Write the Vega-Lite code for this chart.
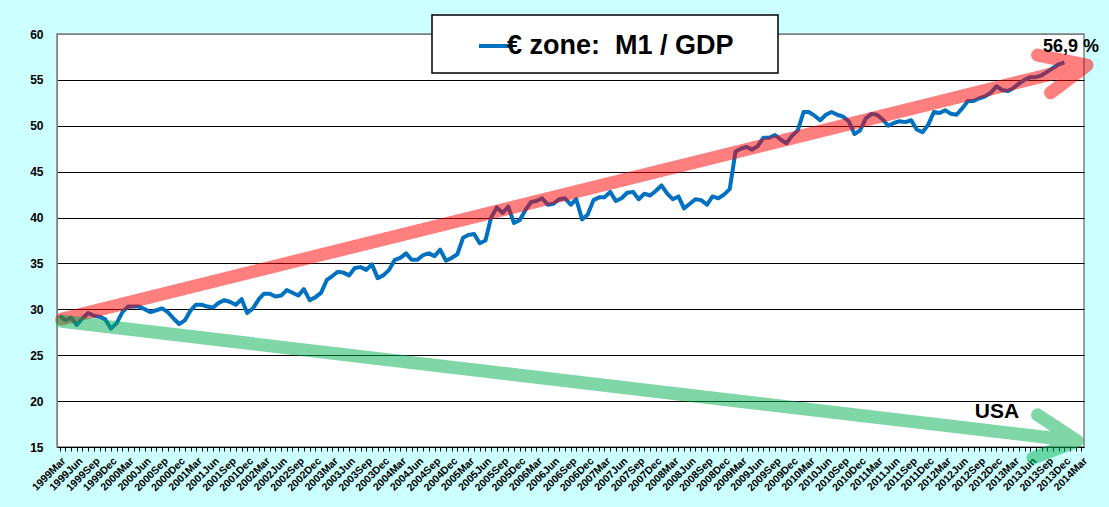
{
  "$schema": "https://vega.github.io/schema/vega-lite/v6.json",
  "autosize": {"type": "none"},
  "padding": {"left": 57, "top": 34, "right": 25, "bottom": 60},
  "width": 1027,
  "height": 413,
  "background": "#ccffff",
  "config": {
    "font": "Liberation Sans",
    "view": {"fill": "white", "stroke": "#808080", "strokeWidth": 1.5}
  },
  "datasets": {
    "m1": [
      {"month": "1999-03-01", "value": 29.3}, {"month": "1999-04-01", "value": 28.8}, {"month": "1999-05-01", "value": 29.1},
      {"month": "1999-06-01", "value": 28.3}, {"month": "1999-07-01", "value": 29.0}, {"month": "1999-08-01", "value": 29.6},
      {"month": "1999-09-01", "value": 29.3}, {"month": "1999-10-01", "value": 29.2}, {"month": "1999-11-01", "value": 28.9},
      {"month": "1999-12-01", "value": 27.9}, {"month": "2000-01-01", "value": 28.5}, {"month": "2000-02-01", "value": 29.7},
      {"month": "2000-03-01", "value": 30.3}, {"month": "2000-04-01", "value": 30.3}, {"month": "2000-05-01", "value": 30.3},
      {"month": "2000-06-01", "value": 30.0}, {"month": "2000-07-01", "value": 29.7}, {"month": "2000-08-01", "value": 29.9},
      {"month": "2000-09-01", "value": 30.1}, {"month": "2000-10-01", "value": 29.7}, {"month": "2000-11-01", "value": 29.0},
      {"month": "2000-12-01", "value": 28.4}, {"month": "2001-01-01", "value": 28.8}, {"month": "2001-02-01", "value": 29.9},
      {"month": "2001-03-01", "value": 30.5}, {"month": "2001-04-01", "value": 30.5}, {"month": "2001-05-01", "value": 30.3},
      {"month": "2001-06-01", "value": 30.2}, {"month": "2001-07-01", "value": 30.7}, {"month": "2001-08-01", "value": 31.0},
      {"month": "2001-09-01", "value": 30.8}, {"month": "2001-10-01", "value": 30.5}, {"month": "2001-11-01", "value": 31.1},
      {"month": "2001-12-01", "value": 29.6}, {"month": "2002-01-01", "value": 30.1}, {"month": "2002-02-01", "value": 31.1},
      {"month": "2002-03-01", "value": 31.7}, {"month": "2002-04-01", "value": 31.7}, {"month": "2002-05-01", "value": 31.4},
      {"month": "2002-06-01", "value": 31.5}, {"month": "2002-07-01", "value": 32.1}, {"month": "2002-08-01", "value": 31.8},
      {"month": "2002-09-01", "value": 31.5}, {"month": "2002-10-01", "value": 32.2}, {"month": "2002-11-01", "value": 31.0},
      {"month": "2002-12-01", "value": 31.3}, {"month": "2003-01-01", "value": 31.8}, {"month": "2003-02-01", "value": 33.2},
      {"month": "2003-03-01", "value": 33.6}, {"month": "2003-04-01", "value": 34.1}, {"month": "2003-05-01", "value": 34.0},
      {"month": "2003-06-01", "value": 33.7}, {"month": "2003-07-01", "value": 34.5}, {"month": "2003-08-01", "value": 34.6},
      {"month": "2003-09-01", "value": 34.3}, {"month": "2003-10-01", "value": 34.9}, {"month": "2003-11-01", "value": 33.4},
      {"month": "2003-12-01", "value": 33.7}, {"month": "2004-01-01", "value": 34.3}, {"month": "2004-02-01", "value": 35.4},
      {"month": "2004-03-01", "value": 35.6}, {"month": "2004-04-01", "value": 36.1}, {"month": "2004-05-01", "value": 35.4},
      {"month": "2004-06-01", "value": 35.4}, {"month": "2004-07-01", "value": 35.9}, {"month": "2004-08-01", "value": 36.1},
      {"month": "2004-09-01", "value": 35.8}, {"month": "2004-10-01", "value": 36.5}, {"month": "2004-11-01", "value": 35.3},
      {"month": "2004-12-01", "value": 35.6}, {"month": "2005-01-01", "value": 36.0}, {"month": "2005-02-01", "value": 37.8},
      {"month": "2005-03-01", "value": 38.1}, {"month": "2005-04-01", "value": 38.2}, {"month": "2005-05-01", "value": 37.2},
      {"month": "2005-06-01", "value": 37.5}, {"month": "2005-07-01", "value": 40.0}, {"month": "2005-08-01", "value": 41.1},
      {"month": "2005-09-01", "value": 40.5}, {"month": "2005-10-01", "value": 41.2}, {"month": "2005-11-01", "value": 39.4},
      {"month": "2005-12-01", "value": 39.7}, {"month": "2006-01-01", "value": 40.8}, {"month": "2006-02-01", "value": 41.7},
      {"month": "2006-03-01", "value": 41.8}, {"month": "2006-04-01", "value": 42.1}, {"month": "2006-05-01", "value": 41.4},
      {"month": "2006-06-01", "value": 41.5}, {"month": "2006-07-01", "value": 42.0}, {"month": "2006-08-01", "value": 42.1},
      {"month": "2006-09-01", "value": 41.4}, {"month": "2006-10-01", "value": 42.0}, {"month": "2006-11-01", "value": 39.8},
      {"month": "2006-12-01", "value": 40.3}, {"month": "2007-01-01", "value": 41.9}, {"month": "2007-02-01", "value": 42.2},
      {"month": "2007-03-01", "value": 42.2}, {"month": "2007-04-01", "value": 42.8}, {"month": "2007-05-01", "value": 41.8},
      {"month": "2007-06-01", "value": 42.1}, {"month": "2007-07-01", "value": 42.7}, {"month": "2007-08-01", "value": 42.8},
      {"month": "2007-09-01", "value": 42.0}, {"month": "2007-10-01", "value": 42.6}, {"month": "2007-11-01", "value": 42.4},
      {"month": "2007-12-01", "value": 42.9}, {"month": "2008-01-01", "value": 43.5}, {"month": "2008-02-01", "value": 42.6},
      {"month": "2008-03-01", "value": 42.0}, {"month": "2008-04-01", "value": 42.3}, {"month": "2008-05-01", "value": 41.0},
      {"month": "2008-06-01", "value": 41.5}, {"month": "2008-07-01", "value": 42.0}, {"month": "2008-08-01", "value": 41.9},
      {"month": "2008-09-01", "value": 41.4}, {"month": "2008-10-01", "value": 42.3}, {"month": "2008-11-01", "value": 42.1},
      {"month": "2008-12-01", "value": 42.5}, {"month": "2009-01-01", "value": 43.1}, {"month": "2009-02-01", "value": 47.2},
      {"month": "2009-03-01", "value": 47.5}, {"month": "2009-04-01", "value": 47.7}, {"month": "2009-05-01", "value": 47.4},
      {"month": "2009-06-01", "value": 47.8}, {"month": "2009-07-01", "value": 48.7}, {"month": "2009-08-01", "value": 48.7},
      {"month": "2009-09-01", "value": 49.0}, {"month": "2009-10-01", "value": 48.5}, {"month": "2009-11-01", "value": 48.1},
      {"month": "2009-12-01", "value": 48.9}, {"month": "2010-01-01", "value": 49.5}, {"month": "2010-02-01", "value": 51.5},
      {"month": "2010-03-01", "value": 51.5}, {"month": "2010-04-01", "value": 51.1}, {"month": "2010-05-01", "value": 50.6},
      {"month": "2010-06-01", "value": 51.2}, {"month": "2010-07-01", "value": 51.5}, {"month": "2010-08-01", "value": 51.2},
      {"month": "2010-09-01", "value": 51.0}, {"month": "2010-10-01", "value": 50.5}, {"month": "2010-11-01", "value": 49.1},
      {"month": "2010-12-01", "value": 49.5}, {"month": "2011-01-01", "value": 50.8}, {"month": "2011-02-01", "value": 51.3},
      {"month": "2011-03-01", "value": 51.2}, {"month": "2011-04-01", "value": 50.7}, {"month": "2011-05-01", "value": 50.0},
      {"month": "2011-06-01", "value": 50.3}, {"month": "2011-07-01", "value": 50.5}, {"month": "2011-08-01", "value": 50.4},
      {"month": "2011-09-01", "value": 50.6}, {"month": "2011-10-01", "value": 49.6}, {"month": "2011-11-01", "value": 49.3},
      {"month": "2011-12-01", "value": 50.1}, {"month": "2012-01-01", "value": 51.5}, {"month": "2012-02-01", "value": 51.4},
      {"month": "2012-03-01", "value": 51.7}, {"month": "2012-04-01", "value": 51.3}, {"month": "2012-05-01", "value": 51.2},
      {"month": "2012-06-01", "value": 51.9}, {"month": "2012-07-01", "value": 52.7}, {"month": "2012-08-01", "value": 52.7},
      {"month": "2012-09-01", "value": 53.0}, {"month": "2012-10-01", "value": 53.2}, {"month": "2012-11-01", "value": 53.6},
      {"month": "2012-12-01", "value": 54.3}, {"month": "2013-01-01", "value": 53.9}, {"month": "2013-02-01", "value": 53.8},
      {"month": "2013-03-01", "value": 54.1}, {"month": "2013-04-01", "value": 54.6}, {"month": "2013-05-01", "value": 55.0},
      {"month": "2013-06-01", "value": 55.3}, {"month": "2013-07-01", "value": 55.3}, {"month": "2013-08-01", "value": 55.5},
      {"month": "2013-09-01", "value": 55.9}, {"month": "2013-10-01", "value": 56.3}, {"month": "2013-11-01", "value": 56.7},
      {"month": "2013-12-01", "value": 56.9}
    ],
    "arrows": [
      {"arrow": "up", "k": 0, "month": "1999-03-13", "value": 28.95},
      {"arrow": "up", "k": 1, "month": "2014-04-01", "value": 56.6},
      {"arrow": "up", "k": 2, "month": "2013-07-10", "value": 57.7},
      {"arrow": "up", "k": 3, "month": "2014-04-01", "value": 56.6},
      {"arrow": "up", "k": 4, "month": "2013-09-18", "value": 53.6},
      {"arrow": "usa", "k": 0, "month": "1999-03-13", "value": 28.7},
      {"arrow": "usa", "k": 1, "month": "2014-02-07", "value": 15.65},
      {"arrow": "usa", "k": 2, "month": "2013-07-10", "value": 18.5},
      {"arrow": "usa", "k": 3, "month": "2014-02-07", "value": 15.65},
      {"arrow": "usa", "k": 4, "month": "2013-06-15", "value": 13.8}
    ]
  },
  "encoding": {
    "x": {
      "field": "month",
      "type": "temporal",
      "scale": {
        "type": "utc",
        "domain": [
          {"year": 1999, "month": 2, "date": 15, "utc": true},
          {"year": 2014, "month": 3, "date": 16, "utc": true}
        ]
      },
      "axis": {
        "title": null,
        "grid": false,
        "tickCount": {"interval": "month", "step": 1},
        "labelExpr": "utcmonth(datum.value) % 3 == 2 ? utcFormat(datum.value, '%Y%b') : ''",
        "labelAngle": -45,
        "labelAlign": "right",
        "labelBaseline": "middle",
        "labelFontSize": 10.5,
        "labelFontWeight": "bold",
        "labelColor": "black",
        "labelOverlap": false,
        "labelFlush": false,
        "labelBound": false,
        "labelOffset": 4,
        "labelPadding": 8,
        "tickSize": 4,
        "tickColor": "black",
        "domainColor": "black"
      }
    },
    "y": {
      "field": "value",
      "type": "quantitative",
      "scale": {"domain": [15, 60], "nice": false, "zero": false},
      "axis": {
        "title": null,
        "values": [15, 20, 25, 30, 35, 40, 45, 50, 55, 60],
        "ticks": false,
        "labelPadding": 14,
        "labelFontSize": 12,
        "labelFontWeight": "bold",
        "labelColor": "black",
        "labelFlush": false,
        "domainColor": "#808080",
        "grid": true,
        "gridColor": {"condition": {"test": "datum.value == 60", "value": "#808080"}, "value": "black"},
        "gridOpacity": 1
      }
    }
  },
  "layer": [
    {
      "data": {"name": "m1"},
      "mark": {"type": "line", "strokeWidth": 4, "strokeJoin": "round"},
      "encoding": {
        "color": {
          "datum": "€ zone:\u00a0 M1 / GDP\u00a0\u00a0\u00a0\u00a0\u200b",
          "type": "nominal",
          "scale": {"range": ["#0070c0"]},
          "legend": {
            "title": null,
            "orient": "none",
            "legendX": 375,
            "legendY": -19,
            "fillColor": "white",
            "strokeColor": "black",
            "padding": 14,
            "symbolType": "stroke",
            "symbolSize": 900,
            "symbolStrokeWidth": 4,
            "symbolOffset": 31,
            "labelOffset": -4,
            "labelFontSize": 27,
            "labelFontWeight": "bold",
            "labelColor": "black",
            "labelLimit": 500,
            "encode": {"legend": {"update": {"strokeWidth": {"value": 1.5}}}}
          }
        }
      }
    },
    {
      "data": {"name": "arrows"},
      "transform": [{"filter": "datum.arrow == 'up'"}],
      "mark": {"type": "line", "stroke": "#ff0000", "opacity": 0.5, "strokeWidth": 13, "strokeJoin": "round", "strokeCap": "round"},
      "encoding": {"order": {"field": "k", "type": "quantitative"}}
    },
    {
      "data": {"name": "arrows"},
      "transform": [{"filter": "datum.arrow == 'usa'"}],
      "mark": {"type": "line", "stroke": "#00b050", "opacity": 0.5, "strokeWidth": 13, "strokeJoin": "round", "strokeCap": "round"},
      "encoding": {"order": {"field": "k", "type": "quantitative"}}
    },
    {
      "data": {"values": [{"note": "56,9 %", "month": "2014-01-05", "value": 58.6}]},
      "mark": {"type": "text", "fontSize": 18, "fontWeight": "bold", "align": "center", "baseline": "middle", "color": "black"},
      "encoding": {"text": {"field": "note"}}
    },
    {
      "data": {"values": [{"note": "USA", "month": "2012-12-04", "value": 18.8}]},
      "mark": {"type": "text", "fontSize": 21, "fontWeight": "bold", "align": "center", "baseline": "middle", "color": "black"},
      "encoding": {"text": {"field": "note"}}
    }
  ]
}
